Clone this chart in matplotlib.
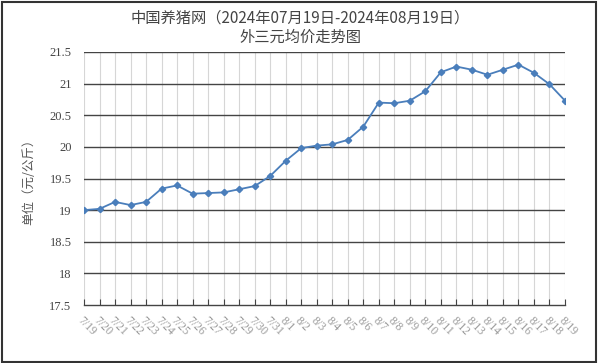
import matplotlib
matplotlib.use("Agg")
import matplotlib.pyplot as plt
from matplotlib.patches import Rectangle

plt.rcParams['font.family'] = ['Noto Sans CJK SC', 'DejaVu Sans']

# data
dates = ["7/19", "7/20", "7/21", "7/22", "7/23", "7/24", "7/25", "7/26",
         "7/27", "7/28", "7/29", "7/30", "7/31", "8/1", "8/2", "8/3",
         "8/4", "8/5", "8/6", "8/7", "8/8", "8/9", "8/10", "8/11",
         "8/12", "8/13", "8/14", "8/15", "8/16", "8/17", "8/18", "8/19"]
prices = [19.00, 19.02, 19.13, 19.08, 19.13, 19.34, 19.39, 19.26,
          19.27, 19.28, 19.33, 19.38, 19.54, 19.78, 19.98, 20.02,
          20.04, 20.11, 20.32, 20.70, 20.69, 20.73, 20.88, 21.18,
          21.27, 21.22, 21.14, 21.22, 21.30, 21.17, 20.99, 20.73]
yticks = [17.5, 18, 18.5, 19, 19.5, 20, 20.5, 21, 21.5]
ytick_labels = ["17.5", "18", "18.5", "19", "19.5", "20", "20.5", "21", "21.5"]

fig = plt.figure(figsize=(6.0, 3.63), dpi=100)
ax = fig.add_axes([84 / 600, 1 - 305 / 363, (565 - 84) / 600, (305 - 52) / 363])

x = list(range(len(dates)))

# grid: light vertical lines at each category, dark horizontal lines
for xi in x:
    ax.axvline(xi, color="#d6d6d6", lw=0.8, zorder=0)
for yv in yticks[1:]:
    ax.axhline(yv, color="#444444", lw=1.0, zorder=1)

ax.plot(x, prices, color="#4a7ebb", lw=1.3, marker="D", markersize=3.2,
        markerfacecolor="#4a7ebb", markeredgecolor="#4a7ebb", zorder=3)

ax.set_xlim(0, len(dates) - 1)
ax.set_ylim(17.5, 21.5)
ax.set_yticks(yticks)
ax.set_yticklabels(ytick_labels, fontsize=9, color="#444444", family="Liberation Serif")
ax.set_xticks(x)
ax.set_xticklabels(dates, rotation=-45, ha="left", va="top", fontsize=8.5,
                   color="#999999", family="Liberation Serif",
                   rotation_mode="anchor")

for s in ["top", "right", "left"]:
    ax.spines[s].set_visible(False)
ax.spines["bottom"].set_color("#444444")
ax.spines["bottom"].set_linewidth(1.0)
ax.tick_params(axis="x", direction="in", length=4, color="#444444", pad=7)
ax.tick_params(axis="y", length=0, pad=9)

ax.set_ylabel("单位（元/公斤）", fontsize=9, color="#555555", labelpad=10)

fig.text(0.5, 1 - 18 / 363, "中国养猪网（2024年07月19日-2024年08月19日）",
         ha="center", va="center", fontsize=11, color="#444444")
fig.text(0.5, 1 - 37 / 363, "外三元均价走势图",
         ha="center", va="center", fontsize=11, color="#444444")

# outer frame
fig.patches.append(Rectangle((0.003, 0.004), 0.99, 0.99, transform=fig.transFigure,
                             fill=False, edgecolor="#333333", lw=1.5))

fig.savefig("out.png", dpi=100)
